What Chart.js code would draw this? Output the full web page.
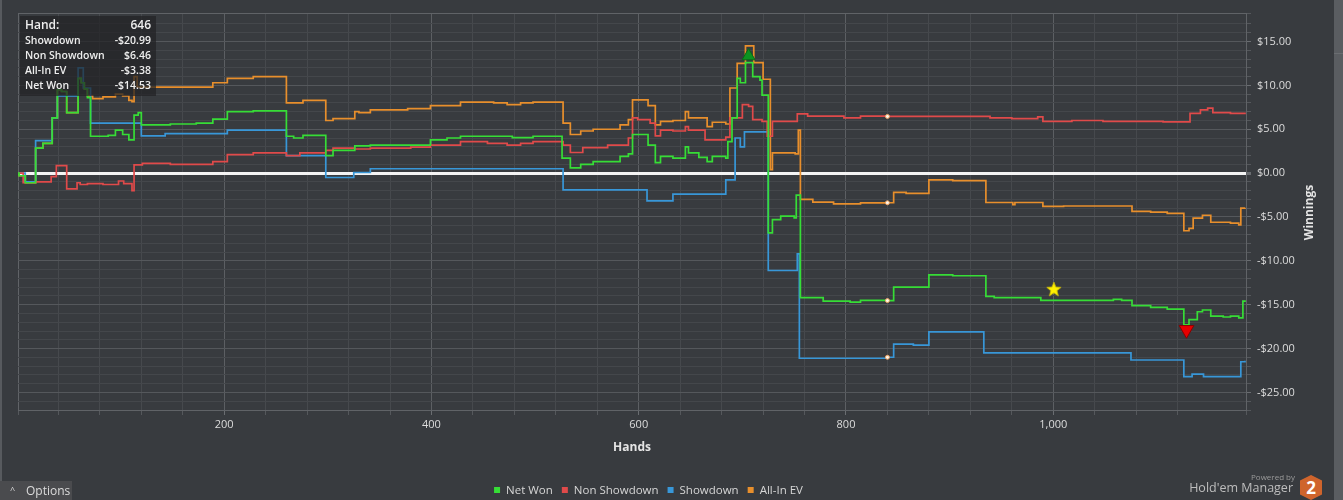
<!DOCTYPE html>
<html lang="en">

<head>
    <meta charset="UTF-8" />
    <meta name="viewport" content="width=device-width, initial-scale=1.0" />
    <script src="https://cdn.jsdelivr.net/npm/chart.js@4.4.1/dist/chart.umd.min.js"></script>
    <title>Winnings</title>
    <style>
        html, body { margin: 0; padding: 0; background: #383b3f; overflow: hidden; }
        #wrap { position: relative; width: 1343px; height: 500px; font-family: "Open Sans", sans-serif; }
        #chart { position: absolute; left: 0; top: 0; }
        #edge { position: absolute; left: 0; top: 0; width: 2px; height: 500px; background: #575a5e; }
        #strip { position: absolute; left: 1334px; top: 0; width: 9px; height: 500px; background: #5a5d61; }
        #strip div { position: absolute; left: 0; top: 53px; width: 9px; height: 1px; background: #6a6d71; }
        #options { position: absolute; left: 0; top: 481px; width: 72px; height: 19px; background: #4a4b4e;
                   color: #dcdcdc; font-size: 12px; line-height: 19px; }
        #options .caret { position: absolute; left: 10px; top: -1px; font-size: 9px; }
        #options .txt { position: absolute; left: 26px; top: 0; }
        #powered { position: absolute; right: 48px; top: 471px; font-size: 8px; color: #9a9a9a; }
        #hem { position: absolute; right: 50px; top: 479px; font-size: 12.5px; color: #bdbdbd; }
        #hex { position: absolute; left: 1300px; top: 475px; width: 22px; height: 25px; background: #cf642c;
               clip-path: polygon(50% 0, 100% 22%, 100% 78%, 50% 100%, 0 78%, 0 22%);
               color: #fff; font-weight: bold; font-size: 17px; text-align: center; line-height: 26px; }
    </style>
</head>

<body>
    <div id="wrap">
        <canvas id="chart" width="1343" height="500"></canvas>
        <div id="edge"></div>
        <div id="strip"><div></div></div>
        <div id="options"><span class="caret">&#94;</span><span class="txt">Options</span></div>
        <div id="powered">Powered by</div>
        <div id="hem">Hold'em Manager</div>
        <div id="hex">2</div>
    </div>
    <script>
        // series break points (hand -> running winnings, value holds until the next hand)
        var netWonHands = [1, 2, 8, 18, 25, 34, 39, 43, 48, 59, 62, 65, 68, 71, 88, 95, 102, 108, 113, 117, 120, 148, 173, 189, 203, 228, 260, 267, 276, 298, 305, 326, 341, 399, 415, 428, 478, 498, 526, 534, 544, 556, 582, 590, 594, 609, 616, 621, 633, 645, 648, 658, 666, 671, 684, 686, 690, 695, 698, 703, 710, 717, 719, 725, 729, 737, 750, 752, 756, 778, 804, 814, 840, 846, 880, 903, 935, 943, 988, 1058, 1066, 1076, 1094, 1110, 1126, 1131, 1139, 1144, 1152, 1164, 1171, 1179, 1183, 1185];
        var netWonValues = [0, -0.3, -1.1, 2.85, 3.4, 6.3, 9.5, 9.3, 6.9, 10.8, 10.3, 9.6, 8.6, 4.2, 4.3, 4.9, 4.4, 3.8, 6.6, 6.9, 5.5, 5.6, 5.7, 6.15, 7.0, 7.1, 4.2, 4.0, 4.3, 2.0, 2.6, 3.1, 3.2, 3.8, 4.0, 4.2, 4.05, 4.2, 1.7, 0.6, 1.0, 1.3, 1.9, 2.2, 4.4, 3.2, 1.2, 1.9, 1.7, 3.0, 2.3, 1.8, 1.3, 1.9, 1.7, 3.6, 6.3, 10.8, 10.3, 12.6, 11.0, 10.6, 8.9, -6.8, -5.3, -4.9, -5.1, -2.5, -14.2, -14.6, -14.7, -14.5, -14.53, -13.0, -11.6, -11.7, -14.05, -14.2, -14.5, -14.4, -14.5, -15.1, -15.3, -15.5, -17.3, -16.7, -15.8, -15.6, -16.3, -16.4, -16.3, -16.5, -14.6, -14.5];

        var nonShowdownHands = [1, 6, 18, 33, 38, 48, 58, 61, 68, 83, 98, 103, 111, 113, 121, 148, 189, 203, 228, 260, 273, 298, 305, 326, 341, 380, 399, 428, 454, 473, 486, 498, 527, 534, 546, 570, 590, 594, 599, 611, 616, 621, 633, 645, 648, 664, 684, 688, 700, 706, 710, 719, 724, 729, 753, 763, 798, 814, 840, 939, 960, 985, 990, 1018, 1048, 1106, 1132, 1142, 1149, 1154, 1171, 1185];
        var nonShowdownValues = [0, -1.1, -1.0, -0.4, 0.85, -1.8, -1.1, -1.3, -1.2, -1.3, -0.9, -1.2, -2.0, 0.95, 1.1, 1.0, 1.3, 2.1, 2.3, 2.0, 2.3, 2.6, 2.85, 2.75, 2.85, 2.97, 3.2, 3.6, 3.4, 3.2, 3.4, 3.6, 3.2, 2.35, 2.9, 3.2, 4.0, 6.3, 6.1, 5.7, 4.25, 4.9, 4.8, 5.3, 4.9, 3.8, 4.1, 6.3, 7.8, 7.6, 6.1, 5.9, 4.2, 5.9, 6.75, 6.5, 6.3, 6.5, 6.46, 6.3, 6.2, 6.4, 5.9, 6.0, 5.9, 5.85, 6.8, 7.2, 7.4, 6.9, 6.8, 6.7];

        var showdownHands = [1, 8, 18, 34, 39, 59, 64, 71, 120, 143, 203, 260, 298, 325, 341, 527, 608, 633, 684, 693, 698, 702, 725, 753, 755, 840, 846, 865, 880, 933, 1075, 1126, 1134, 1145, 1181, 1185];
        var showdownValues = [0, -1.0, 3.7, 6.3, 8.8, 12.0, 9.7, 5.7, 4.25, 4.5, 4.9, 2.0, -0.5, 0.07, 0.5, -1.9, -3.16, -2.4, -0.76, 4.0, 3.0, 4.7, -11.1, -9.2, -21.1, -20.99, -19.5, -19.6, -18.1, -20.5, -21.3, -23.2, -22.9, -23.2, -21.5, -21.4];

        var allInEvHands = [1, 2, 8, 18, 25, 34, 39, 43, 48, 59, 62, 65, 68, 73, 83, 95, 102, 108, 111, 113, 116, 189, 203, 228, 260, 276, 298, 305, 326, 330, 341, 377, 399, 428, 460, 473, 486, 498, 527, 534, 544, 556, 582, 590, 594, 609, 616, 621, 633, 645, 648, 666, 671, 684, 688, 695, 703, 711, 720, 727, 729, 751, 754, 756, 768, 788, 814, 840, 846, 858, 880, 903, 935, 961, 963, 990, 1010, 1076, 1094, 1110, 1126, 1131, 1135, 1144, 1152, 1171, 1179, 1181, 1185];
        var allInEvValues = [0, -0.3, -1.1, 2.85, 3.4, 6.3, 9.5, 9.3, 6.9, 10.8, 10.3, 9.6, 8.8, 8.5, 8.7, 9.0, 8.8, 8.3, 8.15, 11.0, 9.8, 10.3, 10.8, 11.0, 8.0, 8.3, 6.0, 6.2, 7.0, 6.9, 7.2, 7.35, 7.7, 8.1, 8.0, 7.8, 8.0, 8.1, 5.7, 4.4, 4.8, 5.0, 5.5, 6.1, 8.35, 7.7, 5.5, 5.9, 6.0, 7.0, 6.3, 5.3, 5.8, 5.6, 9.7, 12.5, 14.5, 12.6, 10.7, 0.4, 2.3, 2.2, 4.9, -3.0, -3.3, -3.5, -3.4, -3.38, -2.2, -2.3, -0.76, -0.85, -3.35, -3.6, -3.35, -3.8, -3.75, -4.37, -4.45, -4.6, -6.57, -6.3, -5.13, -4.8, -5.6, -5.7, -5.9, -4.0, -3.95];

        // markers: best hand, star, worst hand
        var markerHands = [706, 1000.6, 1128.6];
        var markerValues = [13.34, -13.22, -17.86];

        // hovered hand shown in the info box
        var hoverHand = 840;
        var tooltipHand = 646;
        var tooltipLabels = ["Showdown", "Non Showdown", "All-In EV", "Net Won"];
        var tooltipValues = [-20.99, 6.46, -3.38, -14.53];

        var xTickStep = 40;
        var yTickStep = 1;

        var FONT = '"Open Sans", sans-serif';
        Chart.defaults.font.family = FONT;

        function money(v) {
            return (v < 0 ? "-" : "") + "$" + Math.abs(v).toFixed(2);
        }

        function toPoints(hands, values) {
            return hands.map(function (h, i) { return { x: h, y: values[i] }; });
        }

        function series(label, hands, values, color) {
            return {
                label: label,
                data: toPoints(hands, values),
                borderColor: color,
                backgroundColor: color,
                borderWidth: 1.7,
                // 'before' in chart.js keeps the old value up to the next point
                stepped: "before",
                fill: false,
                order: 0,
                pointRadius: function (c) { return c.raw && c.raw.x === hoverHand ? 2 : 0; },
                pointBackgroundColor: "#fff6ea",
                pointBorderColor: "#e8a060",
                pointBorderWidth: 1
            };
        }

        function makeStar() {
            var c = document.createElement("canvas");
            c.width = 16; c.height = 16;
            var g = c.getContext("2d");
            g.beginPath();
            for (var i = 0; i < 10; i++) {
                var r = i % 2 === 0 ? 7.5 : 3.2;
                var a = -Math.PI / 2 + i * Math.PI / 5;
                var px = 8 + Math.cos(a) * r, py = 8.6 + Math.sin(a) * r;
                if (i === 0) g.moveTo(px, py); else g.lineTo(px, py);
            }
            g.closePath();
            g.fillStyle = "#fff000";
            g.fill();
            g.strokeStyle = "#d6c400";
            g.lineWidth = 0.8;
            g.stroke();
            return c;
        }

        var BORDER = "#606367";

        var overlay = {
            id: "overlay",
            afterDraw: function (chart) {
                var ctx = chart.ctx;
                var area = chart.chartArea;

                // right axis title, reading upwards
                ctx.save();
                ctx.translate(1310, (area.top + area.bottom) / 2 + 1);
                ctx.rotate(-Math.PI / 2);
                ctx.font = "bold 12px " + FONT;
                ctx.fillStyle = "#e4e4e4";
                ctx.textAlign = "center";
                ctx.textBaseline = "middle";
                ctx.fillText("Winnings", 0, 0);
                ctx.restore();

                // legend
                ctx.save();
                ctx.font = "11.5px " + FONT;
                ctx.textBaseline = "middle";
                var sets = chart.data.datasets.slice(0, 4);
                var widths = sets.map(function (d) { return 6 + 6 + ctx.measureText(d.label).width; });
                var total = widths.reduce(function (a, b) { return a + b; }, 0) + 9 * (sets.length - 1);
                var lx = 648.5 - total / 2;
                sets.forEach(function (d, i) {
                    ctx.fillStyle = d.borderColor;
                    ctx.fillRect(lx, 487, 6, 6);
                    ctx.fillStyle = "#d6d6d6";
                    ctx.fillText(d.label, lx + 12, 490.5);
                    lx += widths[i] + 9;
                });
                ctx.restore();

                // info box of the hovered hand
                ctx.save();
                ctx.fillStyle = "rgba(34,35,37,0.72)";
                ctx.fillRect(20, 16, 136, 80);
                ctx.fillStyle = "#eeeeee";
                ctx.textBaseline = "middle";
                ctx.font = "600 12px " + FONT;
                ctx.textAlign = "left";
                ctx.fillText("Hand:", 25, 26);
                ctx.textAlign = "right";
                ctx.fillText(String(tooltipHand), 151, 26);
                ctx.font = "600 10.5px " + FONT;
                tooltipLabels.forEach(function (lab, i) {
                    var y = 41.5 + i * 15;
                    ctx.textAlign = "left";
                    ctx.fillText(lab, 25, y);
                    ctx.textAlign = "right";
                    ctx.fillText(money(tooltipValues[i]), 151, y);
                });
                ctx.restore();
            }
        };

        var chart = new Chart("chart", {
            type: "line",
            data: {
                datasets: [
                    series("Net Won", netWonHands, netWonValues, "#36dd36"),
                    series("Non Showdown", nonShowdownHands, nonShowdownValues, "#e04a4a"),
                    series("Showdown", showdownHands, showdownValues, "#3897d8"),
                    series("All-In EV", allInEvHands, allInEvValues, "#e88f2c"),
                    {
                        label: "markers",
                        data: toPoints(markerHands, markerValues),
                        showLine: false,
                        order: -1,
                        pointStyle: ["triangle", makeStar(), "triangle"],
                        rotation: [0, 0, 180],
                        pointRadius: [7.5, 8, 8.5],
                        pointBackgroundColor: ["#0c9420", "#fff000", "#e60000"],
                        pointBorderColor: ["#0a6a16", "#d6c400", "#8a0000"],
                        pointBorderWidth: 1
                    }
                ]
            },
            options: {
                responsive: false,
                animation: false,
                events: [],
                layout: { padding: { left: 18, top: 13, right: 0, bottom: 0 } },
                plugins: {
                    legend: { display: false },
                    tooltip: { enabled: false }
                },
                scales: {
                    x: {
                        type: "linear",
                        min: 1,
                        max: 1186,
                        afterFit: function (s) { s.height = 90; },
                        border: { color: BORDER, width: 1 },
                        grid: {
                            tickLength: 5,
                            color: function (c) {
                                var v = c.tick.value;
                                if (v === 1 || v === 1186) return BORDER;
                                return v % 200 === 0 ? "#5c5f63" : "#46494d";
                            },
                            tickColor: function (c) { return c.tick.value % 200 === 0 ? "#6a6d71" : "#55585c"; }
                        },
                        ticks: {
                            stepSize: xTickStep,
                            autoSkip: false,
                            maxRotation: 0,
                            padding: 3,
                            color: "#dcdcdc",
                            font: { size: 11 },
                            callback: function (v) { return v % 200 === 0 ? v.toLocaleString("en-US") : ""; }
                        },
                        title: {
                            display: true,
                            text: "Hands",
                            color: "#e4e4e4",
                            font: { size: 12, weight: "bold" },
                            padding: { top: 0, bottom: 45 }
                        }
                    },
                    y: {
                        position: "right",
                        min: -27,
                        max: 18.25,
                        afterFit: function (s) { s.width = 97; },
                        border: { color: BORDER, width: 1 },
                        grid: {
                            tickLength: 5,
                            color: function (c) {
                                var v = c.tick.value;
                                if (v === 0) return "#f4f4f4";
                                if (v === -27 || v === 18.25) return BORDER;
                                return v % 5 === 0 ? "#55585c" : "#44474b";
                            },
                            lineWidth: function (c) { return c.tick.value === 0 ? 3 : 1; },
                            tickColor: function (c) { return c.tick.value % 5 === 0 ? "#6a6d71" : "#55585c"; }
                        },
                        ticks: {
                            stepSize: yTickStep,
                            autoSkip: false,
                            padding: 6,
                            color: "#dcdcdc",
                            font: { size: 11 },
                            callback: function (v) { return v % 5 === 0 ? money(v) : ""; }
                        }
                    }
                }
            },
            plugins: [overlay]
        });
    </script>
</body>

</html>
